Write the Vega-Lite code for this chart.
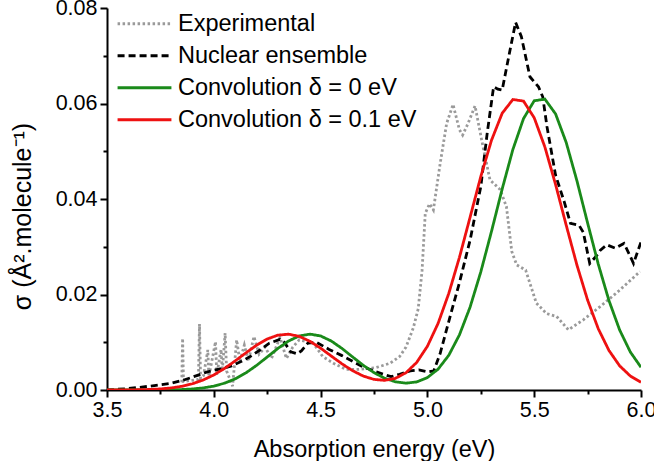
{
  "$schema": "https://vega.github.io/schema/vega-lite/v6.json",
  "width": 534,
  "height": 382,
  "autosize": {"type": "none"},
  "padding": {"left": 107, "top": 8, "right": 13, "bottom": 71},
  "background": "white",
  "config": {
    "font": "Liberation Sans",
    "view": {"stroke": null},
    "axis": {"grid": false, "labelColor": "black", "titleColor": "black", "labelFont": "Liberation Sans", "titleFont": "Liberation Sans", "labelFontSize": 21.5, "titleFontSize": 23.5, "titleFontWeight": "normal"}
  },
  "data": {"values": [
    {"series": "Experimental", "E": 3.850, "s": 0.0016},
    {"series": "Experimental", "E": 3.854, "s": 0.0108},
    {"series": "Experimental", "E": 3.858, "s": 0.0018},
    {"series": "Experimental", "E": 3.928, "s": 0.0022},
    {"series": "Experimental", "E": 3.933, "s": 0.0138},
    {"series": "Experimental", "E": 3.938, "s": 0.0024},
    {"series": "Experimental", "E": 3.952, "s": 0.0030},
    {"series": "Experimental", "E": 3.972, "s": 0.0084},
    {"series": "Experimental", "E": 3.977, "s": 0.0028},
    {"series": "Experimental", "E": 4.008, "s": 0.0101},
    {"series": "Experimental", "E": 4.014, "s": 0.0032},
    {"series": "Experimental", "E": 4.034, "s": 0.0085},
    {"series": "Experimental", "E": 4.040, "s": 0.0040},
    {"series": "Experimental", "E": 4.053, "s": 0.0119},
    {"series": "Experimental", "E": 4.060, "s": 0.0040},
    {"series": "Experimental", "E": 4.088, "s": 0.0008},
    {"series": "Experimental", "E": 4.107, "s": 0.0105},
    {"series": "Experimental", "E": 4.122, "s": 0.0060},
    {"series": "Experimental", "E": 4.143, "s": 0.0094},
    {"series": "Experimental", "E": 4.162, "s": 0.0060},
    {"series": "Experimental", "E": 4.188, "s": 0.0112},
    {"series": "Experimental", "E": 4.212, "s": 0.0075},
    {"series": "Experimental", "E": 4.240, "s": 0.0090},
    {"series": "Experimental", "E": 4.270, "s": 0.0066},
    {"series": "Experimental", "E": 4.310, "s": 0.0110},
    {"series": "Experimental", "E": 4.340, "s": 0.0066},
    {"series": "Experimental", "E": 4.370, "s": 0.0090},
    {"series": "Experimental", "E": 4.400, "s": 0.0105},
    {"series": "Experimental", "E": 4.466, "s": 0.0098},
    {"series": "Experimental", "E": 4.510, "s": 0.0070},
    {"series": "Experimental", "E": 4.560, "s": 0.0056},
    {"series": "Experimental", "E": 4.620, "s": 0.0043},
    {"series": "Experimental", "E": 4.680, "s": 0.0043},
    {"series": "Experimental", "E": 4.760, "s": 0.0047},
    {"series": "Experimental", "E": 4.825, "s": 0.0056},
    {"series": "Experimental", "E": 4.870, "s": 0.0070},
    {"series": "Experimental", "E": 4.900, "s": 0.0090},
    {"series": "Experimental", "E": 4.934, "s": 0.0130},
    {"series": "Experimental", "E": 4.957, "s": 0.0170},
    {"series": "Experimental", "E": 4.975, "s": 0.0250},
    {"series": "Experimental", "E": 4.990, "s": 0.0370},
    {"series": "Experimental", "E": 5.010, "s": 0.0390},
    {"series": "Experimental", "E": 5.028, "s": 0.0377},
    {"series": "Experimental", "E": 5.060, "s": 0.0475},
    {"series": "Experimental", "E": 5.090, "s": 0.0558},
    {"series": "Experimental", "E": 5.120, "s": 0.0598},
    {"series": "Experimental", "E": 5.150, "s": 0.0545},
    {"series": "Experimental", "E": 5.165, "s": 0.0534},
    {"series": "Experimental", "E": 5.190, "s": 0.0558},
    {"series": "Experimental", "E": 5.223, "s": 0.0595},
    {"series": "Experimental", "E": 5.260, "s": 0.0510},
    {"series": "Experimental", "E": 5.293, "s": 0.0440},
    {"series": "Experimental", "E": 5.340, "s": 0.0420},
    {"series": "Experimental", "E": 5.370, "s": 0.0384},
    {"series": "Experimental", "E": 5.395, "s": 0.0290},
    {"series": "Experimental", "E": 5.418, "s": 0.0262},
    {"series": "Experimental", "E": 5.460, "s": 0.0251},
    {"series": "Experimental", "E": 5.510, "s": 0.0182},
    {"series": "Experimental", "E": 5.558, "s": 0.0160},
    {"series": "Experimental", "E": 5.605, "s": 0.0154},
    {"series": "Experimental", "E": 5.660, "s": 0.0126},
    {"series": "Experimental", "E": 5.730, "s": 0.0147},
    {"series": "Experimental", "E": 5.810, "s": 0.0175},
    {"series": "Experimental", "E": 5.900, "s": 0.0209},
    {"series": "Experimental", "E": 5.995, "s": 0.0248},

    {"series": "Nuclear ensemble", "E": 3.50, "s": 0.0000},
    {"series": "Nuclear ensemble", "E": 3.60, "s": 0.0003},
    {"series": "Nuclear ensemble", "E": 3.70, "s": 0.0008},
    {"series": "Nuclear ensemble", "E": 3.80, "s": 0.0014},
    {"series": "Nuclear ensemble", "E": 3.86, "s": 0.0021},
    {"series": "Nuclear ensemble", "E": 3.92, "s": 0.0030},
    {"series": "Nuclear ensemble", "E": 3.97, "s": 0.0038},
    {"series": "Nuclear ensemble", "E": 4.03, "s": 0.0044},
    {"series": "Nuclear ensemble", "E": 4.08, "s": 0.0050},
    {"series": "Nuclear ensemble", "E": 4.13, "s": 0.0060},
    {"series": "Nuclear ensemble", "E": 4.17, "s": 0.0070},
    {"series": "Nuclear ensemble", "E": 4.22, "s": 0.0085},
    {"series": "Nuclear ensemble", "E": 4.26, "s": 0.0098},
    {"series": "Nuclear ensemble", "E": 4.31, "s": 0.0106},
    {"series": "Nuclear ensemble", "E": 4.33, "s": 0.0100},
    {"series": "Nuclear ensemble", "E": 4.36, "s": 0.0080},
    {"series": "Nuclear ensemble", "E": 4.39, "s": 0.0076},
    {"series": "Nuclear ensemble", "E": 4.41, "s": 0.0082},
    {"series": "Nuclear ensemble", "E": 4.44, "s": 0.0098},
    {"series": "Nuclear ensemble", "E": 4.48, "s": 0.0100},
    {"series": "Nuclear ensemble", "E": 4.54, "s": 0.0085},
    {"series": "Nuclear ensemble", "E": 4.60, "s": 0.0072},
    {"series": "Nuclear ensemble", "E": 4.65, "s": 0.0060},
    {"series": "Nuclear ensemble", "E": 4.70, "s": 0.0048},
    {"series": "Nuclear ensemble", "E": 4.75, "s": 0.0040},
    {"series": "Nuclear ensemble", "E": 4.80, "s": 0.0032},
    {"series": "Nuclear ensemble", "E": 4.83, "s": 0.0028},
    {"series": "Nuclear ensemble", "E": 4.87, "s": 0.0033},
    {"series": "Nuclear ensemble", "E": 4.92, "s": 0.0040},
    {"series": "Nuclear ensemble", "E": 4.96, "s": 0.0042},
    {"series": "Nuclear ensemble", "E": 5.00, "s": 0.0038},
    {"series": "Nuclear ensemble", "E": 5.03, "s": 0.0040},
    {"series": "Nuclear ensemble", "E": 5.06, "s": 0.0077},
    {"series": "Nuclear ensemble", "E": 5.11, "s": 0.0160},
    {"series": "Nuclear ensemble", "E": 5.15, "s": 0.0225},
    {"series": "Nuclear ensemble", "E": 5.20, "s": 0.0314},
    {"series": "Nuclear ensemble", "E": 5.25, "s": 0.0426},
    {"series": "Nuclear ensemble", "E": 5.28, "s": 0.0538},
    {"series": "Nuclear ensemble", "E": 5.31, "s": 0.0635},
    {"series": "Nuclear ensemble", "E": 5.33, "s": 0.0630},
    {"series": "Nuclear ensemble", "E": 5.35, "s": 0.0628},
    {"series": "Nuclear ensemble", "E": 5.39, "s": 0.0719},
    {"series": "Nuclear ensemble", "E": 5.413, "s": 0.0770},
    {"series": "Nuclear ensemble", "E": 5.44, "s": 0.0740},
    {"series": "Nuclear ensemble", "E": 5.48, "s": 0.0656},
    {"series": "Nuclear ensemble", "E": 5.52, "s": 0.0635},
    {"series": "Nuclear ensemble", "E": 5.54, "s": 0.0614},
    {"series": "Nuclear ensemble", "E": 5.56, "s": 0.0551},
    {"series": "Nuclear ensemble", "E": 5.60, "s": 0.0450},
    {"series": "Nuclear ensemble", "E": 5.64, "s": 0.0395},
    {"series": "Nuclear ensemble", "E": 5.67, "s": 0.0349},
    {"series": "Nuclear ensemble", "E": 5.71, "s": 0.0345},
    {"series": "Nuclear ensemble", "E": 5.73, "s": 0.0330},
    {"series": "Nuclear ensemble", "E": 5.76, "s": 0.0265},
    {"series": "Nuclear ensemble", "E": 5.79, "s": 0.0280},
    {"series": "Nuclear ensemble", "E": 5.81, "s": 0.0293},
    {"series": "Nuclear ensemble", "E": 5.84, "s": 0.0304},
    {"series": "Nuclear ensemble", "E": 5.88, "s": 0.0297},
    {"series": "Nuclear ensemble", "E": 5.92, "s": 0.0307},
    {"series": "Nuclear ensemble", "E": 5.95, "s": 0.0280},
    {"series": "Nuclear ensemble", "E": 5.965, "s": 0.0265},
    {"series": "Nuclear ensemble", "E": 6.00, "s": 0.0310},

    {"series": "Convolution δ = 0 eV", "E": 3.50, "s": 0.0},
    {"series": "Convolution δ = 0 eV", "E": 3.55, "s": 0.0},
    {"series": "Convolution δ = 0 eV", "E": 3.60, "s": 0.000001},
    {"series": "Convolution δ = 0 eV", "E": 3.65, "s": 0.000002},
    {"series": "Convolution δ = 0 eV", "E": 3.70, "s": 0.000007},
    {"series": "Convolution δ = 0 eV", "E": 3.75, "s": 0.000019},
    {"series": "Convolution δ = 0 eV", "E": 3.80, "s": 0.000045},
    {"series": "Convolution δ = 0 eV", "E": 3.85, "s": 0.000103},
    {"series": "Convolution δ = 0 eV", "E": 3.90, "s": 0.000219},
    {"series": "Convolution δ = 0 eV", "E": 3.95, "s": 0.000437},
    {"series": "Convolution δ = 0 eV", "E": 4.00, "s": 0.000816},
    {"series": "Convolution δ = 0 eV", "E": 4.05, "s": 0.001425},
    {"series": "Convolution δ = 0 eV", "E": 4.10, "s": 0.002334},
    {"series": "Convolution δ = 0 eV", "E": 4.15, "s": 0.00358},
    {"series": "Convolution δ = 0 eV", "E": 4.20, "s": 0.005141},
    {"series": "Convolution δ = 0 eV", "E": 4.25, "s": 0.006912},
    {"series": "Convolution δ = 0 eV", "E": 4.30, "s": 0.008702},
    {"series": "Convolution δ = 0 eV", "E": 4.35, "s": 0.010257},
    {"series": "Convolution δ = 0 eV", "E": 4.40, "s": 0.011321},
    {"series": "Convolution δ = 0 eV", "E": 4.45, "s": 0.0117},
    {"series": "Convolution δ = 0 eV", "E": 4.50, "s": 0.011321},
    {"series": "Convolution δ = 0 eV", "E": 4.55, "s": 0.010258},
    {"series": "Convolution δ = 0 eV", "E": 4.60, "s": 0.008705},
    {"series": "Convolution δ = 0 eV", "E": 4.65, "s": 0.00692},
    {"series": "Convolution δ = 0 eV", "E": 4.70, "s": 0.005162},
    {"series": "Convolution δ = 0 eV", "E": 4.75, "s": 0.003634},
    {"series": "Convolution δ = 0 eV", "E": 4.80, "s": 0.002463},
    {"series": "Convolution δ = 0 eV", "E": 4.85, "s": 0.001717},
    {"series": "Convolution δ = 0 eV", "E": 4.90, "s": 0.001438},
    {"series": "Convolution δ = 0 eV", "E": 4.95, "s": 0.00169},
    {"series": "Convolution δ = 0 eV", "E": 5.00, "s": 0.002599},
    {"series": "Convolution δ = 0 eV", "E": 5.05, "s": 0.004369},
    {"series": "Convolution δ = 0 eV", "E": 5.10, "s": 0.007261},
    {"series": "Convolution δ = 0 eV", "E": 5.15, "s": 0.011549},
    {"series": "Convolution δ = 0 eV", "E": 5.20, "s": 0.017382},
    {"series": "Convolution δ = 0 eV", "E": 5.25, "s": 0.024728},
    {"series": "Convolution δ = 0 eV", "E": 5.30, "s": 0.0332},
    {"series": "Convolution δ = 0 eV", "E": 5.35, "s": 0.04208},
    {"series": "Convolution δ = 0 eV", "E": 5.40, "s": 0.05034},
    {"series": "Convolution δ = 0 eV", "E": 5.45, "s": 0.05684},
    {"series": "Convolution δ = 0 eV", "E": 5.50, "s": 0.06057},
    {"series": "Convolution δ = 0 eV", "E": 5.55, "s": 0.06092},
    {"series": "Convolution δ = 0 eV", "E": 5.60, "s": 0.05783},
    {"series": "Convolution δ = 0 eV", "E": 5.65, "s": 0.05181},
    {"series": "Convolution δ = 0 eV", "E": 5.70, "s": 0.04382},
    {"series": "Convolution δ = 0 eV", "E": 5.75, "s": 0.03498},
    {"series": "Convolution δ = 0 eV", "E": 5.80, "s": 0.02635},
    {"series": "Convolution δ = 0 eV", "E": 5.85, "s": 0.01873},
    {"series": "Convolution δ = 0 eV", "E": 5.90, "s": 0.01257},
    {"series": "Convolution δ = 0 eV", "E": 5.95, "s": 0.00796},
    {"series": "Convolution δ = 0 eV", "E": 6.00, "s": 0.00476},

    {"series": "Convolution δ = 0.1 eV", "E": 3.50, "s": 0.000004},
    {"series": "Convolution δ = 0.1 eV", "E": 3.55, "s": 0.00001},
    {"series": "Convolution δ = 0.1 eV", "E": 3.60, "s": 0.000024},
    {"series": "Convolution δ = 0.1 eV", "E": 3.65, "s": 0.000053},
    {"series": "Convolution δ = 0.1 eV", "E": 3.70, "s": 0.000113},
    {"series": "Convolution δ = 0.1 eV", "E": 3.75, "s": 0.000226},
    {"series": "Convolution δ = 0.1 eV", "E": 3.80, "s": 0.000429},
    {"series": "Convolution δ = 0.1 eV", "E": 3.85, "s": 0.000769},
    {"series": "Convolution δ = 0.1 eV", "E": 3.90, "s": 0.001303},
    {"series": "Convolution δ = 0.1 eV", "E": 3.95, "s": 0.002086},
    {"series": "Convolution δ = 0.1 eV", "E": 4.00, "s": 0.003154},
    {"series": "Convolution δ = 0.1 eV", "E": 4.05, "s": 0.004509},
    {"series": "Convolution δ = 0.1 eV", "E": 4.10, "s": 0.00609},
    {"series": "Convolution δ = 0.1 eV", "E": 4.15, "s": 0.00777},
    {"series": "Convolution δ = 0.1 eV", "E": 4.20, "s": 0.009368},
    {"series": "Convolution δ = 0.1 eV", "E": 4.25, "s": 0.010674},
    {"series": "Convolution δ = 0.1 eV", "E": 4.30, "s": 0.01149},
    {"series": "Convolution δ = 0.1 eV", "E": 4.35, "s": 0.011687},
    {"series": "Convolution δ = 0.1 eV", "E": 4.40, "s": 0.01123},
    {"series": "Convolution δ = 0.1 eV", "E": 4.45, "s": 0.0102},
    {"series": "Convolution δ = 0.1 eV", "E": 4.50, "s": 0.00876},
    {"series": "Convolution δ = 0.1 eV", "E": 4.55, "s": 0.007113},
    {"series": "Convolution δ = 0.1 eV", "E": 4.60, "s": 0.00548},
    {"series": "Convolution δ = 0.1 eV", "E": 4.65, "s": 0.004037},
    {"series": "Convolution δ = 0.1 eV", "E": 4.70, "s": 0.002917},
    {"series": "Convolution δ = 0.1 eV", "E": 4.75, "s": 0.002217},
    {"series": "Convolution δ = 0.1 eV", "E": 4.80, "s": 0.002019},
    {"series": "Convolution δ = 0.1 eV", "E": 4.85, "s": 0.002436},
    {"series": "Convolution δ = 0.1 eV", "E": 4.90, "s": 0.003622},
    {"series": "Convolution δ = 0.1 eV", "E": 4.95, "s": 0.005781},
    {"series": "Convolution δ = 0.1 eV", "E": 5.00, "s": 0.009157},
    {"series": "Convolution δ = 0.1 eV", "E": 5.05, "s": 0.013945},
    {"series": "Convolution δ = 0.1 eV", "E": 5.10, "s": 0.020211},
    {"series": "Convolution δ = 0.1 eV", "E": 5.15, "s": 0.027782},
    {"series": "Convolution δ = 0.1 eV", "E": 5.20, "s": 0.036208},
    {"series": "Convolution δ = 0.1 eV", "E": 5.25, "s": 0.044707},
    {"series": "Convolution δ = 0.1 eV", "E": 5.30, "s": 0.052289},
    {"series": "Convolution δ = 0.1 eV", "E": 5.35, "s": 0.057947},
    {"series": "Convolution δ = 0.1 eV", "E": 5.40, "s": 0.060837},
    {"series": "Convolution δ = 0.1 eV", "E": 5.45, "s": 0.060507},
    {"series": "Convolution δ = 0.1 eV", "E": 5.50, "s": 0.057012},
    {"series": "Convolution δ = 0.1 eV", "E": 5.55, "s": 0.050896},
    {"series": "Convolution δ = 0.1 eV", "E": 5.60, "s": 0.043045},
    {"series": "Convolution δ = 0.1 eV", "E": 5.65, "s": 0.034491},
    {"series": "Convolution δ = 0.1 eV", "E": 5.70, "s": 0.026175},
    {"series": "Convolution δ = 0.1 eV", "E": 5.75, "s": 0.018831},
    {"series": "Convolution δ = 0.1 eV", "E": 5.80, "s": 0.012825},
    {"series": "Convolution δ = 0.1 eV", "E": 5.85, "s": 0.008279},
    {"series": "Convolution δ = 0.1 eV", "E": 5.90, "s": 0.005059},
    {"series": "Convolution δ = 0.1 eV", "E": 5.95, "s": 0.002933},
    {"series": "Convolution δ = 0.1 eV", "E": 6.00, "s": 0.001607}
  ]},
  "mark": {"type": "line", "strokeWidth": 2.8, "strokeCap": "butt", "clip": true},
  "encoding": {
    "x": {
      "field": "E", "type": "quantitative",
      "scale": {"domain": [3.5, 6.0], "nice": false, "zero": false},
      "axis": {
        "title": "Absorption energy (eV)", "orient": "bottom",
        "domain": true, "domainColor": "#000000", "domainWidth": 2,
        "ticks": true, "tickColor": "#000000", "tickWidth": 2,
        "values": [3.5, 3.75, 4.0, 4.25, 4.5, 4.75, 5.0, 5.25, 5.5, 5.75, 6.0],
        "labelExpr": "round(datum.value * 4) % 2 == 0 ? format(datum.value, '.1f') : ''",
        "tickSize": {"condition": {"test": "round(datum.value * 4) % 2 == 0", "value": 7}, "value": 4},
        "labelFlush": false, "labelOverlap": false, "labelBound": false,
        "labelPadding": 2, "titlePadding": 17
      }
    },
    "y": {
      "field": "s", "type": "quantitative",
      "scale": {"domain": [0, 0.08], "nice": false},
      "axis": {
        "title": "σ (Å².molecule⁻¹)", "orient": "left",
        "domain": true, "domainColor": "#000000", "domainWidth": 2,
        "ticks": true, "tickColor": "#000000", "tickWidth": 2,
        "values": [0, 0.01, 0.02, 0.03, 0.04, 0.05, 0.06, 0.07, 0.08],
        "labelExpr": "round(datum.value * 100) % 2 == 0 ? format(datum.value, '.2f') : ''",
        "tickSize": {"condition": {"test": "round(datum.value * 100) % 2 == 0", "value": 7}, "value": 4},
        "labelFlush": false, "labelOverlap": false, "labelBound": false,
        "labelPadding": 3, "titlePadding": 20, "titleFontSize": 25, "titleY": 208
      }
    },
    "color": {
      "field": "series", "type": "nominal",
      "scale": {
        "domain": ["Experimental", "Nuclear ensemble", "Convolution δ = 0 eV", "Convolution δ = 0.1 eV"],
        "range": ["#9a9a9a", "#000000", "#1a8a1a", "#ee1111"]
      },
      "legend": {
        "title": null, "orient": "none", "legendX": 9, "legendY": 0,
        "labelFontSize": 23.5, "labelColor": "black", "labelFont": "Liberation Sans", "labelLimit": 500,
        "symbolType": "stroke", "symbolSize": 2900, "symbolStrokeWidth": 2.8,
        "labelOffset": 5, "rowPadding": 0, "clipHeight": 31.5
      }
    },
    "strokeDash": {
      "field": "series", "type": "nominal",
      "scale": {
        "domain": ["Experimental", "Nuclear ensemble", "Convolution δ = 0 eV", "Convolution δ = 0.1 eV"],
        "range": [[2.5, 2.5], [7, 4], [1, 0], [1, 0]]
      },
      "legend": {
        "title": null, "orient": "none", "legendX": 9, "legendY": 0,
        "labelFontSize": 23.5, "labelColor": "black", "labelFont": "Liberation Sans", "labelLimit": 500,
        "symbolType": "stroke", "symbolSize": 2900, "symbolStrokeWidth": 2.8,
        "labelOffset": 5, "rowPadding": 0, "clipHeight": 31.5
      }
    }
  }
}
